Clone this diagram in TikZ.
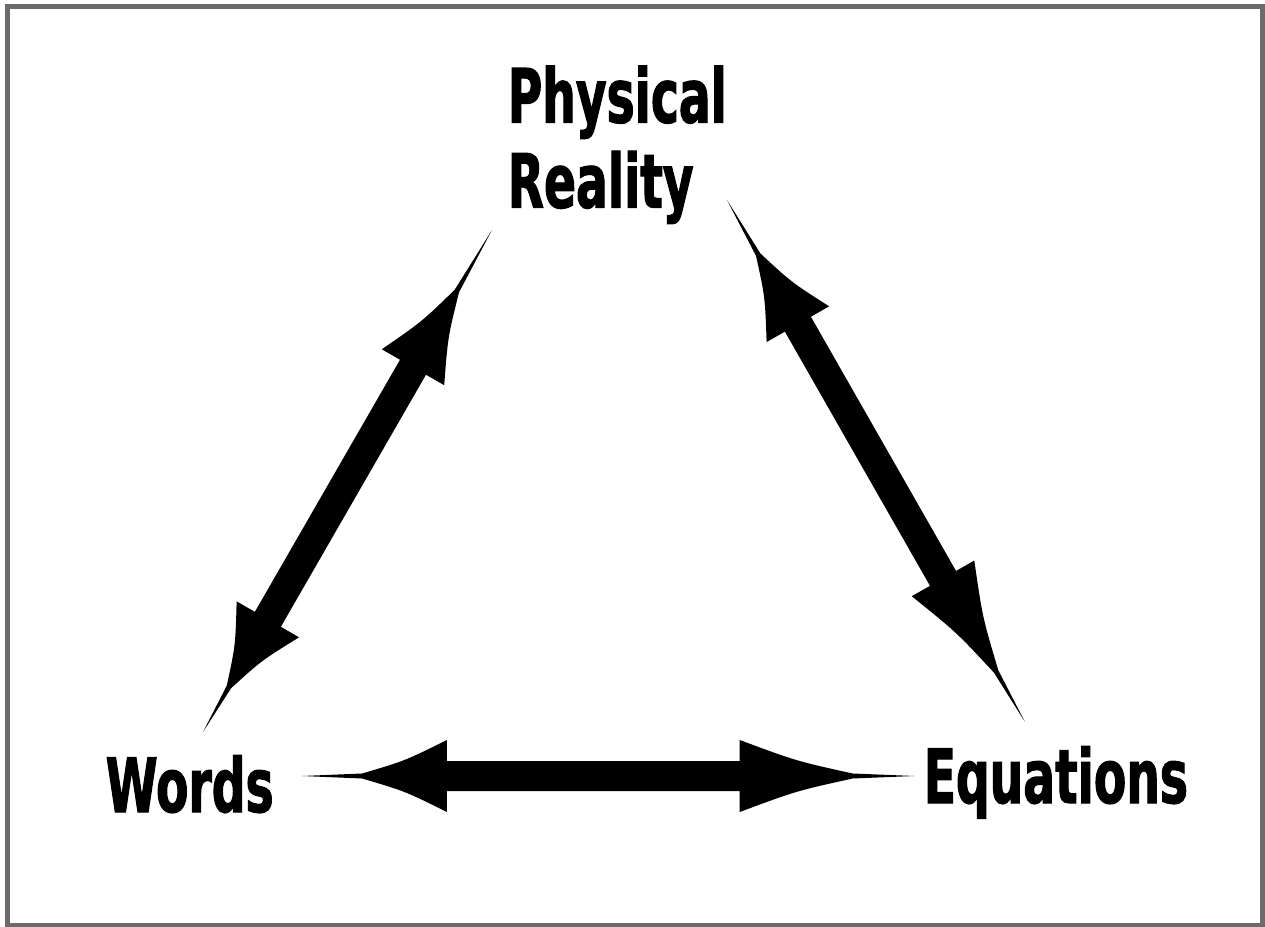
\documentclass[tikz,border=0pt]{standalone}
\usepackage{fontspec}
\usetikzlibrary{calc}
\newfontfamily\labfont{DejaVu Sans Bold}[FakeStretch=0.63, FakeBold=1.4]
\tikzset{
  lab/.style={font=\labfont\fontsize{21.3pt}{24.2pt}\selectfont, inner sep=0pt, text=black},
  ink/.style={fill=black},
  frame/.style={draw=black!58, line width=1.2pt},
}
% brush-like double arrow between two named coordinates
% #1 from, #2 to, #3 tail length at #1, #4 head length at #1, #5 head length at #2, #6 tail length at #2
\newcommand\brusharrow[6]{%
  \pgfmathanglebetweenpoints{\pgfpointanchor{#1}{center}}{\pgfpointanchor{#2}{center}}%
  \let\baang\pgfmathresult
  \pgfpointdiff{\pgfpointanchor{#1}{center}}{\pgfpointanchor{#2}{center}}%
  \pgfgetlastxy{\badx}{\bady}%
  \pgfmathsetmacro\baL{veclen(\badx,\bady)/0.284528}%
  \pgfmathsetmacro\baA{#3}%
  \pgfmathsetmacro\baB{#3+#4}%
  \pgfmathsetmacro\baCa{#3+0.5*#4}%
  \pgfmathsetmacro\baD{\baL-#6}%
  \pgfmathsetmacro\baC{\baL-#6-#5}%
  \pgfmathsetmacro\baCb{\baL-#6-0.5*#5}%
  \begin{scope}[shift={(#1)},rotate=\baang,x=0.01cm,y=0.01cm]
    \fill[ink] (0,0) -- (\baA,2.5) .. controls (\baCa,15) .. (\baB,36) -- (\baB,15)
      -- (\baC,15) -- (\baC,36) .. controls (\baCb,15) .. (\baD,2.5) -- (\baL,0)
      -- (\baD,-2.5) .. controls (\baCb,-15) .. (\baC,-36) -- (\baC,-15)
      -- (\baB,-15) -- (\baB,-36) .. controls (\baCa,-15) .. (\baA,-2.5) -- cycle;
  \end{scope}}
\begin{document}
\begin{tikzpicture}[x=0.01cm,y=-0.01cm]
  \useasboundingbox (0,0) rectangle (1265,927);
  \fill[white] (0,0) rectangle (1265,927);
  \draw[frame] (7.5,6.5) rectangle (1262.5,925);
  % labels
  \node[lab, anchor=north west, align=left] (phys) at (507,65) {Physical\\Reality};
  \node[lab, anchor=base west] (words) at (105,812) {Words};
  \node[lab, anchor=base west] (eqs) at (923,803) {Equations};
  % arrow ends
  \coordinate (wl) at (302,776);
  \coordinate (wr) at (915,776);
  \coordinate (ll) at (203,732);
  \coordinate (lu) at (492,230);
  \coordinate (ru) at (727,200);
  \coordinate (rl) at (1025,722);
  \brusharrow{wl}{wr}{60}{85}{113}{62}
  \brusharrow{ll}{lu}{52}{78}{88}{70}
  \brusharrow{ru}{rl}{63}{80}{107}{58}
\end{tikzpicture}
\end{document}
